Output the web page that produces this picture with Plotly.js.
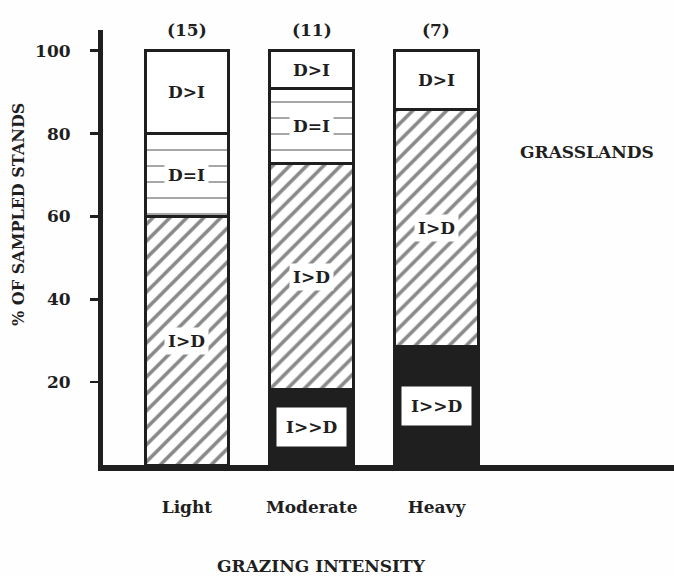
<!DOCTYPE html>
<html>
<head>
<meta charset="utf-8">
<script src="https://cdn.plot.ly/plotly-3.0.1.min.js"></script>
<style>
  html, body { margin: 0; padding: 0; background: #fefefe; }
  #chart { width: 674px; height: 576px; }
</style>
</head>
<body>
<div id="chart"></div>
<script>
// ---- data ----
const categories = ['Light', 'Moderate', 'Heavy'];
const standCounts = [15, 11, 7];
const pctIMuchGreaterD = [0, 18.2, 28.6];   // I>>D
const pctIGreaterD = [60, 54.5, 57.1];      // I>D
const pctDEqualI = [20, 18.2, 0];           // D=I
const pctDGreaterI = [20, 9.1, 14.3];       // D>I
const segmentNames = ['I>>D', 'I>D', 'D=I', 'D>I'];
const yTickVals = [20, 40, 60, 80, 100];

const ink = '#1f1f1f';
const FONT = 'DejaVu Serif, Liberation Serif, serif';
const xIdx = categories.map((c, i) => i);

const lineSpec = { color: ink, width: 3 };
const series = [pctIMuchGreaterD, pctIGreaterD, pctDEqualI, pctDGreaterI];
const markers = [
  { color: ink, line: lineSpec },
  { color: '#ffffff', line: lineSpec,
    pattern: { shape: '/', fgcolor: '#111111', bgcolor: '#ffffff', size: 12, solidity: 0.3, fillmode: 'overlay' } },
  { color: '#ffffff', line: lineSpec,
    pattern: { shape: '-', fgcolor: '#222222', bgcolor: '#ffffff', size: 16, solidity: 0.1, fillmode: 'overlay' } },
  { color: '#ffffff', line: lineSpec }
];

const traces = series.map((vals, k) => ({
  type: 'bar',
  name: segmentNames[k],
  x: xIdx,
  y: vals,
  width: 0.67,
  marker: markers[k],
  hoverinfo: 'skip'
}));

const boldFont = (size) => ({ family: FONT, size: size, color: ink, weight: 'bold' });

// ---- annotations: segment labels ----
const annotations = [];
xIdx.forEach(i => {
  let base = 0;
  series.forEach((vals, k) => {
    const v = vals[i];
    if (v > 0) {
      const isBlack = k === 0;
      annotations.push({
        x: i, y: base + v / 2, xref: 'x', yref: 'y',
        xanchor: 'center', yanchor: 'middle',
        text: segmentNames[k], showarrow: false,
        font: boldFont(17),
        bgcolor: '#ffffff',
        borderpad: isBlack ? 9 : 3
      });
    }
    base += v;
  });
  annotations.push({
    x: i, y: 100, xref: 'x', yref: 'y', xanchor: 'center', yanchor: 'middle', yshift: 21,
    text: '(' + standCounts[i] + ')', showarrow: false,
    font: boldFont(17)
  });
});

annotations.push({
  x: 0.848, y: 0.72, xref: 'paper', yref: 'paper', xanchor: 'center', yanchor: 'middle',
  text: 'GRASSLANDS', showarrow: false,
  font: boldFont(17)
});
annotations.push({
  x: 0.3835, y: -0.232, xref: 'paper', yref: 'paper', xanchor: 'center', yanchor: 'middle',
  text: 'GRAZING INTENSITY', showarrow: false,
  font: boldFont(17)
});
annotations.push({
  x: -0.147, y: 0.575, xref: 'paper', yref: 'paper', xanchor: 'center', yanchor: 'middle',
  textangle: -90,
  text: '% OF SAMPLED STANDS', showarrow: false,
  font: boldFont(16)
});

const layout = {
  width: 674, height: 576,
  margin: { l: 103, r: 0, t: 30, b: 111 },
  paper_bgcolor: '#fefefe',
  plot_bgcolor: '#fefefe',
  barmode: 'stack',
  showlegend: false,
  xaxis: {
    range: [-0.673, 3.904],
    tickvals: xIdx,
    ticktext: categories,
    showline: true, linecolor: ink, linewidth: 6,
    ticks: '', showgrid: false, zeroline: false,
    ticklabelstandoff: 22,
    tickfont: boldFont(17)
  },
  yaxis: {
    range: [0, 105],
    tickvals: yTickVals,
    showline: true, linecolor: ink, linewidth: 5,
    ticks: 'outside', ticklen: 8, tickwidth: 2.5, tickcolor: ink,
    showgrid: false, zeroline: false,
    ticklabelstandoff: 16,
    tickfont: boldFont(17)
  },
  annotations: annotations
};

Plotly.newPlot('chart', traces, layout, { staticPlot: true, displayModeBar: false });
</script>
</body>
</html>
